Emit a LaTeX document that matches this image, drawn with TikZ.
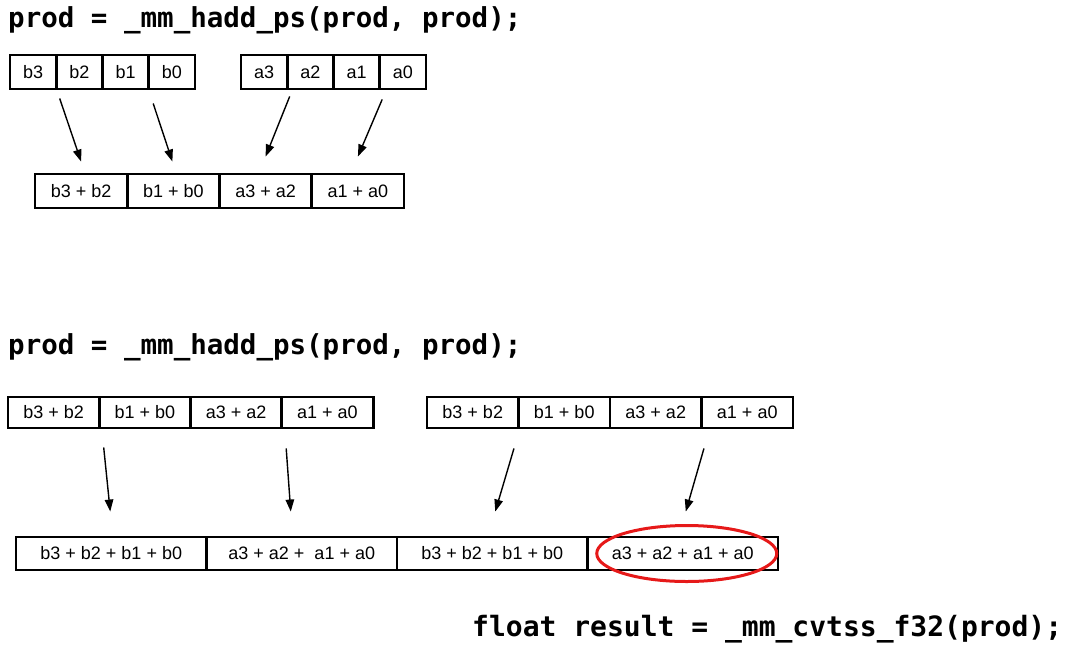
\documentclass[tikz,border=0pt]{standalone}
\usepackage{fontspec}
\setmainfont{Liberation Sans}
\newfontfamily\codefont{DejaVu Sans Mono}
\usetikzlibrary{arrows.meta,shapes.geometric}
\tikzset{
  cell/.style={draw=black, line width=2.9pt, inner sep=0pt, font=\fontsize{18}{20}\selectfont, anchor=center},
  small/.style={cell, minimum width=46.25pt, minimum height=34pt},
  mid/.style={cell, minimum width=92.25pt, minimum height=34pt},
  row2/.style={cell, minimum width=91.3pt, minimum height=31pt},
  wide/.style={cell, minimum width=190.5pt, minimum height=33pt},
  arr/.style={line width=1.4pt, -{Triangle[length=12pt,width=8.5pt]}},
  code/.style={font=\codefont\bfseries\fontsize{27.5}{30}\selectfont, inner sep=0pt},
  hl/.style={draw={rgb,255:red,230;green,25;blue,25}, line width=3pt, ellipse, minimum width=180pt, minimum height=56pt, inner sep=0pt}
}
\begin{document}
\begin{tikzpicture}[x=1pt,y=-1pt]
\useasboundingbox (0,0) rectangle (1078,651);
% section 1
\node[code, anchor=base west] (t1) at (8,27) {prod = \_mm\_hadd\_ps(prod, prod);};
\node[small] (b3) at (33.1,72) {b3};
\node[small] (b2) at (79.4,72) {b2};
\node[small] (b1) at (125.6,72) {b1};
\node[small] (b0) at (171.9,72) {b0};
\node[small] (a3) at (264.1,72) {a3};
\node[small] (a2) at (310.4,72) {a2};
\node[small] (a1) at (356.6,72) {a1};
\node[small] (a0) at (402.9,72) {a0};
\node[mid] (s1) at (81.1,191) {b3 + b2};
\node[mid] (s2) at (173.4,191) {b1 + b0};
\node[mid] (s3) at (265.6,191) {a3 + a2};
\node[mid] (s4) at (357.9,191) {a1 + a0};
\draw[arr] ([shift={(2,8)}]b3.south east) -- ([shift={(0,-11)}]s1.north);
\draw[arr] ([shift={(3,13)}]b1.south east) -- ([shift={(-1,-11)}]s2.north);
\draw[arr] ([shift={(1,6)}]a3.south east) -- ([shift={(0,-16)}]s3.north);
\draw[arr] ([shift={(1,9)}]a1.south east) -- ([shift={(0,-16)}]s4.north);
% section 2
\node[code, anchor=base west] (t2) at (8,354) {prod = \_mm\_hadd\_ps(prod, prod);};
\node[row2] (c1) at (53.6,412.5) {b3 + b2};
\node[row2] (c2) at (144.9,412.5) {b1 + b0};
\node[row2] (c3) at (236.1,412.5) {a3 + a2};
\node[row2] (c4) at (327.4,412.5) {a1 + a0};
\node[row2, minimum width=91.5pt] (d1) at (472.75,412.5) {b3 + b2};
\node[row2, minimum width=91.5pt] (d2) at (564.25,412.5) {b1 + b0};
\node[row2, minimum width=91.5pt] (d3) at (655.75,412.5) {a3 + a2};
\node[row2, minimum width=91.5pt] (d4) at (747.25,412.5) {a1 + a0};
\node[wide] (r1) at (111.25,553.5) {b3 + b2 + b1 + b0};
\node[wide] (r2) at (301.75,553.5) {a3 + a2 + \ a1 + a0};
\node[wide] (r3) at (492.25,553.5) {b3 + b2 + b1 + b0};
\node[wide] (r4) at (682.75,553.5) {a3 + a2 + a1 + a0};
\draw[arr] ([shift={(3,18)}]c1.south east) -- ([shift={(-1,-24)}]r1.north);
\draw[arr] ([shift={(3,19)}]c3.south east) -- ([shift={(-11,-24)}]r2.north);
\draw[arr] ([shift={(-6,19)}]d1.south east) -- ([shift={(3,-24)}]r3.north);
\draw[arr] ([shift={(1,19)}]d3.south east) -- ([shift={(3,-24)}]r4.north);
\node[hl] (ring) at ([shift={(4,0)}]r4.center) {};
\node[code, anchor=base west, font=\codefont\bfseries\fontsize{28}{30}\selectfont] (t3) at (472,636) {float result = \_mm\_cvtss\_f32(prod);};
\end{tikzpicture}
\end{document}
